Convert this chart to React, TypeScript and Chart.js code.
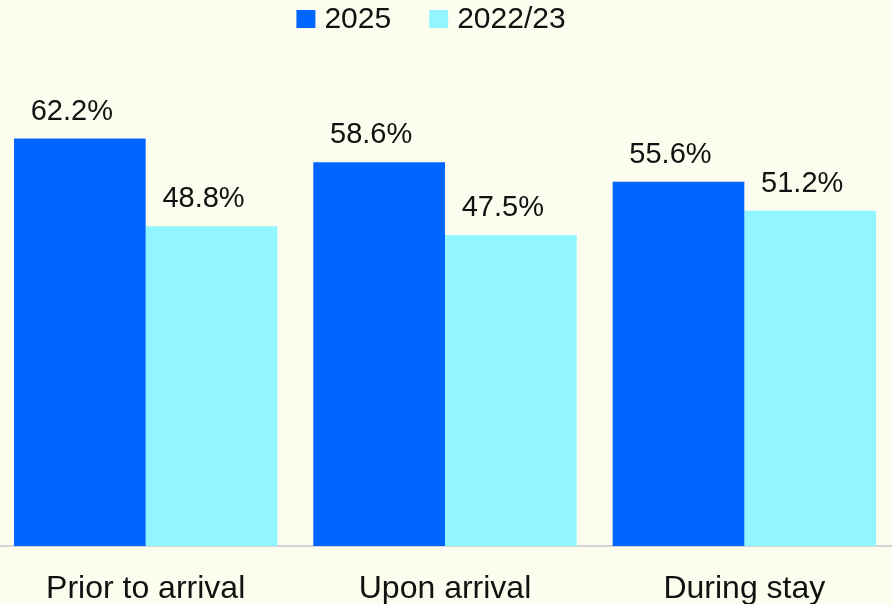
import React, { useEffect, useRef } from "react";
import { Chart, registerables } from "chart.js";

Chart.register(...registerables);

const categories = ["Prior to arrival", "Upon arrival", "During stay"];
const series2025 = [62.2, 58.6, 55.6];
const series2022 = [48.8, 47.5, 51.2];
const seriesLabels = ["2025", "2022/23"];
const colors = ["#0066ff", "#91f6ff"];
const BG = "#fdfdef";
const FONT = "'Liberation Sans', Arial, sans-serif";

const bgPlugin = {
  id: "bg",
  beforeDraw(chart: any) {
    const { ctx, width, height } = chart;
    ctx.save();
    ctx.fillStyle = BG;
    ctx.fillRect(0, 0, width, height);
    ctx.restore();
  },
};

const labelPlugin = {
  id: "valueLabels",
  afterDatasetsDraw(chart: any) {
    const { ctx } = chart;
    ctx.save();
    ctx.font = `29px ${FONT}`;
    ctx.fillStyle = "#111111";
    ctx.textAlign = "center";
    ctx.textBaseline = "alphabetic";
    chart.data.datasets.forEach((ds: any, i: number) => {
      const meta = chart.getDatasetMeta(i);
      meta.data.forEach((bar: any, j: number) => {
        const v = ds.data[j];
        ctx.fillText(v.toFixed(1) + "%", bar.x - 8, bar.y - 19);
      });
    });
    ctx.restore();
  },
};

const legendPlugin = {
  id: "customLegend",
  afterDraw(chart: any) {
    const { ctx, width } = chart;
    ctx.save();
    ctx.font = `30px ${FONT}`;
    const box = 19;
    const gap = 9;
    const itemGap = 38;
    const widths = seriesLabels.map((t) => ctx.measureText(t).width);
    const total = widths.reduce((a, w) => a + box + gap + w, 0) + itemGap * (seriesLabels.length - 1);
    let x = width / 2 - 14 - total / 2;
    const top = 10;
    seriesLabels.forEach((t, i) => {
      ctx.fillStyle = colors[i];
      ctx.fillRect(x, top, box, box - 1);
      ctx.fillStyle = "#111111";
      ctx.textBaseline = "alphabetic";
      ctx.textAlign = "left";
      ctx.fillText(t, x + box + gap, top + 18);
      x += box + gap + widths[i] + itemGap;
    });
    ctx.restore();
  },
};

export default function App() {
  const ref = useRef<HTMLCanvasElement>(null);
  useEffect(() => {
    document.body.style.background = BG;
    const chart = new Chart(ref.current!, {
      type: "bar",
      data: {
        labels: categories,
        datasets: [
          { label: seriesLabels[0], data: series2025, backgroundColor: colors[0] },
          { label: seriesLabels[1], data: series2022, backgroundColor: colors[1] },
        ],
      },
      options: {
        animation: false,
        responsive: false,
        maintainAspectRatio: false,
        layout: { padding: { top: 87.5, left: 0, right: 0, bottom: 0 } },
        datasets: { bar: { categoryPercentage: 0.88, barPercentage: 1 } },
        plugins: { legend: { display: false }, tooltip: { enabled: false } },
        scales: {
          y: { display: false, min: 0, max: 70 },
          x: {
            grid: { display: false, drawTicks: false },
            border: { display: true, color: "#d4d4d4", width: 2 },
            ticks: {
              padding: 24,
              color: "#111111",
              font: { family: FONT, size: 32 },
              maxRotation: 0,
              autoSkip: false,
            },
            afterFit(scale: any) {
              scale.height = 604 - 546;
            },
          },
        },
      },
      plugins: [bgPlugin, labelPlugin, legendPlugin],
    });
    return () => chart.destroy();
  }, []);
  return (
    <div style={{ position: "fixed", left: -4, top: 0, width: 898, height: 604, background: BG }}>
      <canvas ref={ref} width={898} height={604} style={{ display: "block" }} />
    </div>
  );
}
